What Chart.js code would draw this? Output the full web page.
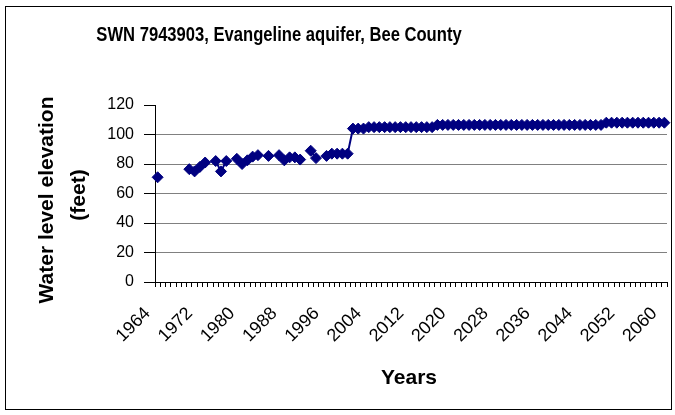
<!DOCTYPE html>
<html><head><meta charset="utf-8">
<script src="https://cdn.jsdelivr.net/npm/chart.js@4/dist/chart.umd.min.js"></script>
<style>html,body{margin:0;padding:0;background:#fff;}</style>
</head><body>
<canvas id="c" width="675" height="415"></canvas>
<script>
const chartTitle = "SWN 7943903, Evangeline aquifer, Bee County";
const yTitleLines = ["Water level elevation", "(feet)"];
const xTitle = "Years";

const years = ["1964","1965","1966","1967","1968","1969","1970","1971","1972","1973",
  "1974","1975","1976","1977","1978","1979","1980","1981","1982","1983",
  "1984","1985","1986","1987","1988","1989","1990","1991","1992","1993",
  "1994","1995","1996","1997","1998","1999","2000","2001","2002","2003",
  "2004","2005","2006","2007","2008","2009","2010","2011","2012","2013",
  "2014","2015","2016","2017","2018","2019","2020","2021","2022","2023",
  "2024","2025","2026","2027","2028","2029","2030","2031","2032","2033",
  "2034","2035","2036","2037","2038","2039","2040","2041","2042","2043",
  "2044","2045","2046","2047","2048","2049","2050","2051","2052","2053",
  "2054","2055","2056","2057","2058","2059","2060"];

const waterLevel = [71, null, null, null, null, null, 76.5, 75, 78, 81,
  null, 82, 75, 82, null, 83.5, 80, 82.5, 85, 86,
  null, 85.5, null, 86, 82.5, 84.5, 84.5, 83, null, 89,
  84, null, 85.5, 87, 87, 87, 87, 104, 104, 104,
  105, 105, 105, 105, 105, 105, 105, 105, 105, 105,
  105, 105, 105, 106.5, 106.5, 106.5, 106.5, 106.5, 106.5, 106.5,
  106.5, 106.5, 106.5, 106.5, 106.5, 106.5, 106.5, 106.5, 106.5, 106.5,
  106.5, 106.5, 106.5, 106.5, 106.5, 106.5, 106.5, 106.5, 106.5, 106.5,
  106.5, 106.5, 106.5, 106.5, 106.5, 108, 108, 108, 108, 108,
  108, 108, 108, 108, 108, 108, 108];

const xTickLabels = ["1964","1972","1980","1988","1996","2004","2012","2020","2028","2036","2044","2052","2060"];
const yTickValues = [0, 20, 40, 60, 80, 100, 120];

const NAVY = '#000080';

const decor = {
  id: 'decor',
  afterDraw(chart) {
    const ctx = chart.ctx;
    ctx.save();
    // outer frame
    ctx.strokeStyle = '#000';
    ctx.lineWidth = 1;
    ctx.strokeRect(5.5, 6.5, 666, 403);
    ctx.fillStyle = '#000';
    // chart title (condensed bold)
    ctx.save();
    ctx.font = 'bold 20px "Liberation Sans", Arial, sans-serif';
    ctx.textAlign = 'center';
    ctx.textBaseline = 'alphabetic';
    ctx.translate(279, 41);
    ctx.scale(0.83, 1);
    ctx.fillText(chartTitle, 0, 0);
    ctx.restore();
    // x title
    ctx.font = 'bold 21px "Liberation Sans", Arial, sans-serif';
    ctx.textAlign = 'center';
    ctx.textBaseline = 'alphabetic';
    ctx.fillText(xTitle, 409, 384);
    // y title
    ctx.textBaseline = 'middle';
    ctx.save();
    ctx.translate(47, 200);
    ctx.rotate(-Math.PI / 2);
    ctx.fillText(yTitleLines[0], 0, 0);
    ctx.restore();
    ctx.save();
    ctx.translate(79, 195);
    ctx.rotate(-Math.PI / 2);
    ctx.fillText(yTitleLines[1], 0, 0);
    ctx.restore();
    ctx.restore();
  }
};

new Chart(document.getElementById('c'), {
  type: 'line',
  data: {
    labels: years,
    datasets: [{
      data: waterLevel,
      borderColor: NAVY,
      backgroundColor: NAVY,
      borderWidth: 2,
      pointStyle: 'rectRot',
      pointRadius: 5.5,
      pointBorderWidth: 1,
      pointBackgroundColor: NAVY,
      pointBorderColor: NAVY,
      spanGaps: false,
      tension: 0,
      fill: false
    }]
  },
  options: {
    responsive: false,
    animation: false,
    events: [],
    layout: { padding: { left: 0, right: 8, top: 105, bottom: 0 } },
    plugins: { legend: { display: false }, title: { display: false }, tooltip: { enabled: false } },
    scales: {
      x: {
        type: 'category',
        offset: true,
        afterFit(scale) { scale.height = 133; scale.paddingLeft = 0; scale.paddingRight = 0; },
        grid: { offset: true, drawOnChartArea: false, drawTicks: true, tickLength: 5, color: '#000', tickColor: '#000', lineWidth: 1 },
        border: { display: true, color: '#000', width: 1 },
        ticks: {
          autoSkip: false,
          minRotation: 45,
          maxRotation: 45,
          padding: 16,
          labelOffset: -10,
          color: '#000',
          font: { family: '"Liberation Sans", Arial, sans-serif', size: 18 },
          callback: function(v, i) { return xTickLabels.includes(years[i]) ? years[i] : ''; }
        }
      },
      y: {
        min: 0,
        max: 120,
        afterFit(scale) { scale.width = 155; },
        afterBuildTicks(scale) { scale.ticks = yTickValues.map(v => ({ value: v })); },
        grid: {
          color: (c) => (c.tick && c.tick.value === 120) ? 'rgba(0,0,0,0)' : '#808080',
          tickColor: '#000',
          tickLength: 11,
          lineWidth: 1
        },
        border: { display: true, color: '#000', width: 1 },
        ticks: {
          padding: 10,
          color: '#000',
          font: { family: '"Liberation Sans", Arial, sans-serif', size: 16 }
        }
      }
    }
  },
  plugins: [decor]
});
</script>
</body></html>
